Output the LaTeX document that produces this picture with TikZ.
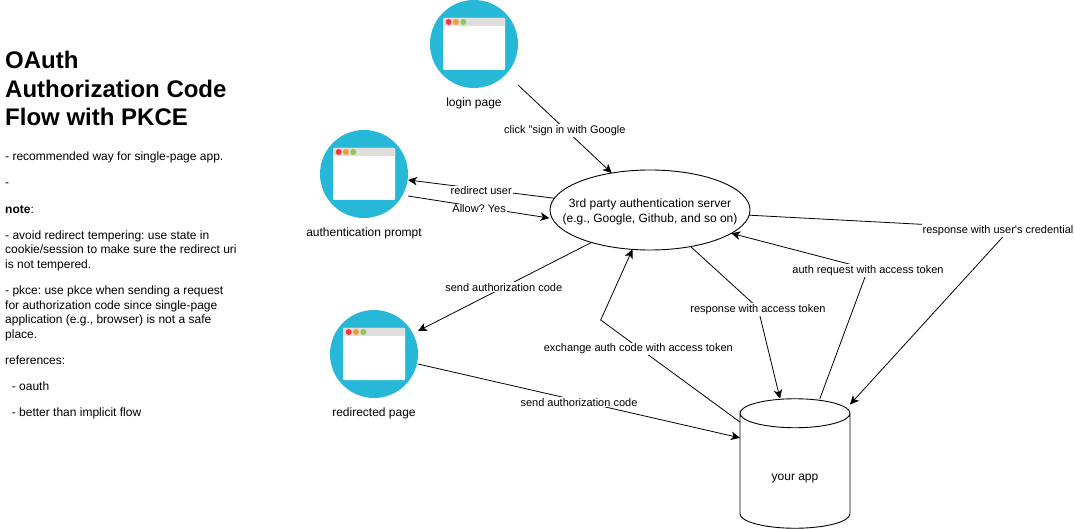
\documentclass[tikz,border=0pt]{standalone}
\usepackage{fontspec}
\setmainfont{Liberation Sans}[Ligatures=TeXOff]
\usepackage{xcolor}
\definecolor{IconBlue}{RGB}{39,183,215}
\definecolor{BarGray}{RGB}{224,222,219}
\definecolor{DotRed}{RGB}{245,55,63}
\definecolor{DotOrange}{RGB}{238,158,55}
\definecolor{DotGreen}{RGB}{140,200,91}
\usepackage{tikz}
\usetikzlibrary{
  shapes.geometric,
  arrows.meta,
  positioning
}
\tikzset{
  % Browser icon disc
  icondisc/.style={
    circle, fill=IconBlue, minimum size=88pt,
    inner sep=0pt, outer sep=0pt
  },
  % Caption below an icon
  caption/.style={font=\fontsize{12}{15}\selectfont, inner sep=0pt, align=center},
  % Central server
  server/.style={
    ellipse, draw=black, fill=white, line width=0.9pt,
    minimum width=200pt, minimum height=80pt,
    inner sep=0pt, outer sep=0pt
  },
  % App storage (outline drawn separately)
  appstore/.style={
    rectangle, minimum width=110pt, minimum height=129.5pt,
    inner sep=0pt, outer sep=0pt
  },
  appline/.style={draw=black, line width=0.9pt},
  % Arrows
  arr/.style={-{Stealth[length=9pt,width=8.5pt,inset=2.5pt]}, line width=0.8pt, black},
  % Edge label
  elabel/.style={font=\fontsize{11}{13}\selectfont, fill=white, inner sep=1pt, yshift=-1.5pt},
}

\begin{document}
\frenchspacing
\begin{tikzpicture}[x=1pt,y=-1pt]
  \useasboundingbox (0,0) rectangle (1074,529);

  % Heading and notes
  \node[anchor=north west, inner sep=0pt, align=left,
        font=\fontsize{24}{28.6}\selectfont\bfseries] (title) at (5,51)
    {OAuth\\Authorization Code\\Flow with PKCE};
  \node[anchor=north west, inner sep=0pt, align=left,
        font=\fontsize{12}{14.6}\selectfont] (notes) at (5,152)
    {- recommended way for single-page app.\\[11.5pt]
     -\\[11.5pt]
     \textbf{note}:\\[11.5pt]
     - avoid redirect tempering: use state in\\
     cookie/session to make sure the redirect uri\\
     is not tempered.\\[11.5pt]
     - pkce: use pkce when sending a request\\
     for authorization code since single-page\\
     application (e.g., browser) is not a safe\\
     place.\\[11.5pt]
     references:\\[11.5pt]
     \ \ - oauth\\[11.5pt]
     \ \ - better than implicit flow};

  % Browser icons
  \foreach \iconname/\px/\py/\iconlabel in {
    login/474/44/login page,
    prompt/364/174/authentication prompt,
    redirected/374/354/redirected page} {
    \node[icondisc] (\iconname) at (\px,\py) {};
    \fill[white, rounded corners=1pt] (\px-31,\py-26) rectangle (\px+31,\py+26);
    \fill[BarGray, rounded corners=1pt] (\px-31,\py-26) rectangle (\px+31,\py-18);
    \fill[DotRed] (\px-25.3,\py-22) circle (3);
    \fill[DotOrange] (\px-18,\py-22) circle (3);
    \fill[DotGreen] (\px-10.7,\py-22) circle (3);
    \node[caption] (\iconname label) at (\px,\py+59) {\iconlabel};
  }

  \node[server] (auth) at (650,210) {};
  \node[caption] (authlabel) at (650,211.5)
    {3rd party authentication server\\(e.g., Google, Github, and so on)};

  % App cylinder
  \node[appstore] (app) at (795,463.5) {};
  \draw[appline] ([yshift=-14.5pt]app.north west)
    arc[start angle=180, delta angle=-180, x radius=55pt, y radius=14.5pt]
    arc[start angle=0, delta angle=-180, x radius=55pt, y radius=14.5pt]
    -- ([yshift=14.5pt]app.south west)
    arc[start angle=180, delta angle=180, x radius=55pt, y radius=14.5pt]
    -- ([yshift=-14.5pt]app.north east);
  \node[caption] (applabel) at (795,479) {your app};

  % Connectors
  \draw[arr] ([yshift=-41pt]login.east) -- node[elabel] (lclick) {click "sign in with Google} (auth.136.5);
  \draw[arr] (auth.173) -- node[elabel] (lredirect) {redirect user} ([yshift=-6pt]prompt.east);
  \draw[arr, shorten >=3pt] ([yshift=-22pt]prompt.east) -- node[elabel, xshift=-1pt] (lallow) {Allow? Yes} (auth.185);
  \draw[arr] (auth.209) -- node[elabel, xshift=-1pt, yshift=1pt] (lsend) {send authorization code} ([yshift=23pt]redirected.east);
  \draw[arr] ([yshift=-10pt]redirected.east) -- node[elabel] (lsendapp) {send authorization code} (app.155);
  \draw[arr] (app.143.6) -- node[elabel, pos=.73] (lexchange) {exchange auth code with access token} (600.7,320) -- (auth.246.6);
  \draw[arr] (auth.318.6) -- (758,308) node[elabel] (lresponse) {response with access token} -- (app.103.3);
  \draw[arr] (app.69) -- (868,269) node[elabel] (lrequest) {auth request with access token} -- (auth.344.7);
  \draw[arr] (auth.357) -- (1010,229) node[elabel, xshift=-12pt] (lcredential) {response with user's credential} -- (app.47.2);
\end{tikzpicture}
\end{document}
